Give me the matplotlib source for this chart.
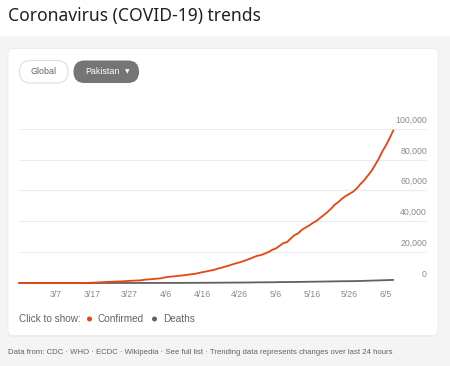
import matplotlib
matplotlib.use("Agg")
import matplotlib.pyplot as plt
from matplotlib.patches import FancyBboxPatch, Rectangle, Circle
import matplotlib.transforms as mtransforms
import numpy as np

# ---- data (cumulative, Pakistan, daily from 2/26 to 6/7) ----
confirmed = [2, 2, 2, 4, 4, 5, 5, 5, 5, 6, 6, 6, 6, 16, 19, 20, 28, 31, 53, 136,
             236, 299, 454, 501, 730, 776, 875, 972, 1063, 1201, 1373, 1495, 1597, 1717, 2039,
             2291, 2450, 2708, 2880, 3157, 3766, 4035, 4263, 4489, 4788, 5038, 5374, 5716, 5988,
             6505, 7025, 7481, 7993, 8418, 9216, 9749, 10513, 11155, 11940, 12657, 13328, 14079,
             14915, 15759, 16817, 17699, 18114, 19103, 20084, 21501, 22413, 24073, 25837, 26435,
             28736, 30941, 32081, 34336, 35788, 37218, 38799, 40151, 42125, 43966, 45898, 48091,
             50694, 52437, 54601, 56349, 57705, 59151, 61227, 64028, 66457, 69496, 72460, 76398,
             80463, 85264, 89249, 93983, 98943]
deaths = [0] * 20 + [0, 2, 2, 3, 3, 5, 6, 7, 8, 9, 11, 12, 14, 21, 26,
          31, 35, 40, 41, 50, 54, 57, 63, 65, 70, 86, 93, 96, 107, 124, 135, 143, 159, 176,
          192, 209, 224, 237, 253, 269, 281, 301, 327, 346, 385, 417, 440, 440, 463, 486,
          526, 564, 599, 622, 659, 667, 706, 737, 770, 803, 834, 873, 903, 939, 985, 1017,
          1067, 1101, 1133, 1167, 1197, 1225, 1260, 1317, 1395, 1483, 1543, 1621, 1688, 1770,
          1838, 1935, 2002]
n = min(len(confirmed), len(deaths))
confirmed = confirmed[:n]
deaths = deaths[:n]
days = np.arange(n)

x_tick_labels = ["3/7", "3/17", "3/27", "4/6", "4/16", "4/26", "5/6", "5/16", "5/26", "6/5"]
x_tick_pos = [10, 20, 30, 40, 50, 60, 70, 80, 90, 100]
y_ticks = [0, 20000, 40000, 60000, 80000, 100000]
y_tick_labels = ["0", "20,000", "40,000", "60,000", "80,000", "100,000"]

ORANGE = "#e8450f"
DARK = "#616161"
TICK = "#8a8a8a"

W, H = 450, 366
fig = plt.figure(figsize=(W / 100, H / 100), dpi=100)
fig.patch.set_facecolor("white")

# background axes in pixel coordinates
bg = fig.add_axes([0, 0, 1, 1])
bg.set_xlim(0, W)
bg.set_ylim(H, 0)
bg.axis("off")
bg.add_patch(Rectangle((0, 36), W, H - 36, facecolor="#f4f4f4", edgecolor="none"))
# card shadow + card
bg.add_patch(FancyBboxPatch((8, 49.5), 430, 287, boxstyle="round,pad=0,rounding_size=5",
                            facecolor="#e2e2e2", edgecolor="none"))
bg.add_patch(FancyBboxPatch((8, 48.5), 430, 287, boxstyle="round,pad=0,rounding_size=5",
                            facecolor="white", edgecolor="#ececec", linewidth=0.6))

bg.text(8, 16, "Coronavirus (COVID-19) trends", fontsize=12.6, family="Noto Sans",
        color="#222222", va="center", ha="left")

# buttons
bg.add_patch(FancyBboxPatch((19.5, 60.5), 48.5, 22.5, boxstyle="round,pad=0,rounding_size=11",
                            facecolor="white", edgecolor="#dadce0", linewidth=0.8))
bg.text(43.5, 72, "Global", fontsize=6.4, family="Liberation Sans", color="#5f6368",
        ha="center", va="center")
bg.add_patch(FancyBboxPatch((73.5, 60.5), 65.5, 22.5, boxstyle="round,pad=0,rounding_size=11",
                            facecolor="#757575", edgecolor="none"))
bg.text(102, 72, "Pakistan", fontsize=6.4, family="Liberation Sans", color="white",
        ha="center", va="center")
bg.text(127, 72, "\u25BC", fontsize=4.2, family="DejaVu Sans", color="white",
        ha="center", va="center")

# legend
bg.text(19, 319, "Click to show:", fontsize=7.2, family="Liberation Sans", color="#5f6368",
        ha="left", va="center")
bg.add_patch(Circle((89.5, 319), 2.5, facecolor=ORANGE, edgecolor="none"))
bg.text(98, 319, "Confirmed", fontsize=7.2, family="Liberation Sans", color="#5f6368",
        ha="left", va="center")
bg.add_patch(Circle((154.5, 319), 2.5, facecolor=DARK, edgecolor="none"))
bg.text(163, 319, "Deaths", fontsize=7.2, family="Liberation Sans", color="#5f6368",
        ha="left", va="center")

bg.text(8, 353, "Data from: CDC \u00b7 WHO \u00b7 ECDC \u00b7 Wikipedia \u00b7 See full list \u00b7 "
        "Trending data represents changes over last 24 hours",
        fontsize=5.55, family="Liberation Sans", color="#5f6368", ha="left", va="center")

# plot axes
x0, x1 = 19, 427
y_top, y_zero = 128.7, 283
ax = fig.add_axes([x0 / W, (H - y_zero) / H, (x1 - x0) / W, (y_zero - y_top) / H])
ax.set_facecolor("none")
px_per_day = 3.67
ax.set_xlim(0, (x1 - x0) / px_per_day)
ax.set_ylim(0, 100000)
for s in ax.spines.values():
    s.set_visible(False)
ax.set_yticks([])
ax.set_xticks(x_tick_pos)
ax.set_xticklabels(x_tick_labels, fontsize=6.3, family="Liberation Sans", color=TICK)
ax.tick_params(axis="x", length=0, pad=5)
for v in y_ticks:
    ax.axhline(v, color="#ececec", linewidth=0.8, zorder=0)
trans = mtransforms.blended_transform_factory(ax.transAxes, ax.transData)
for v, lab in zip(y_ticks, y_tick_labels):
    ax.annotate(lab, xy=(1.0, v), xycoords=trans, xytext=(0, 3), textcoords="offset points",
                ha="right", va="bottom", fontsize=6.3, family="Liberation Sans",
                color=TICK, annotation_clip=False)

ax.plot(days, deaths, color=DARK, linewidth=1.3, clip_on=False, zorder=3,
        solid_capstyle="round")
ax.plot(days, confirmed, color=ORANGE, linewidth=1.3, clip_on=False, zorder=4,
        solid_capstyle="round")

fig.savefig("out.png", dpi=100)
